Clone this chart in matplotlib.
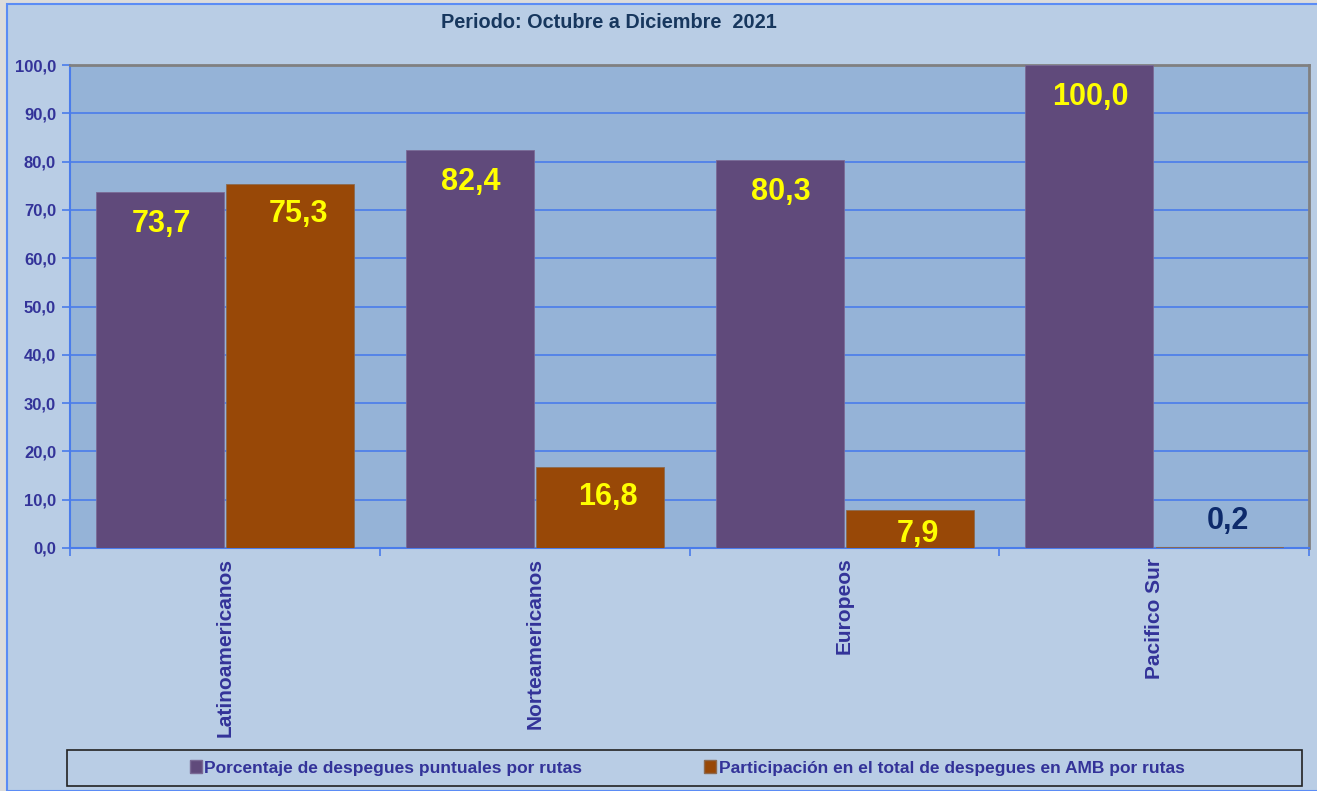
import numpy as np
import matplotlib.pyplot as plt
from matplotlib.patches import Rectangle, Patch

# datos
rutas = ['Latinoamericanos', 'Norteamericanos', 'Europeos', 'Pacifico Sur']
puntuales = [73.7, 82.4, 80.3, 100.0]
participacion = [75.3, 16.8, 7.9, 0.2]
yticks = [0, 10, 20, 30, 40, 50, 60, 70, 80, 90, 100]

titulo = 'Periodo: Octubre a Diciembre  2021'
serie1 = 'Porcentaje de despegues puntuales por rutas'
serie2 = 'Participación en el total de despegues en AMB por rutas'

plt.rcParams['font.family'] = ['Liberation Sans', 'DejaVu Sans']

c_morado = '#604A7B'
c_naranja = '#984807'
c_texto = '#333399'
c_grid = '#4A7CEB'

fig = plt.figure(figsize=(13.17, 7.91), dpi=100, facecolor='#DCDCDC')
# area del grafico
fig.patches.append(Rectangle((7 / 1317, 0), 1, (791 - 4) / 791, transform=fig.transFigure,
                             facecolor='#B9CDE5', edgecolor='#5B8CF5', linewidth=1.5, zorder=-10))

ax = fig.add_axes([70 / 1317, (791 - 548) / 791, 1239 / 1317, 483 / 791])
ax.set_facecolor('#95B3D7')

x = np.arange(len(rutas))
w = 0.413
ax.bar(x - 0.209, puntuales, w, color=c_morado, edgecolor='#7A6A95', linewidth=0.6, zorder=3)
ax.bar(x + 0.211, participacion, w, color=c_naranja, edgecolor='#8C6A50', linewidth=0.6, zorder=3)

for i, v in enumerate(puntuales):
    ax.annotate(f'{v:.1f}'.replace('.', ','), (x[i] - 0.209, v), xytext=(1, -32),
                textcoords='offset pixels', ha='center', va='center',
                fontsize=22, fontweight='bold', color='#FFFF00', zorder=5)
for i, v in enumerate(participacion):
    if v < 3:
        dy, col = 26, '#0D2A6B'
    elif v < 10:
        dy, col = -24, '#FFFF00'
    else:
        dy, col = -30, '#FFFF00'
    ax.annotate(f'{v:.1f}'.replace('.', ','), (x[i] + 0.211, v), xytext=(8, dy),
                textcoords='offset pixels', ha='center', va='center',
                fontsize=22, fontweight='bold', color=col, zorder=5)

ax.set_xlim(-0.5, len(rutas) - 0.5)
ax.set_ylim(0, 100)
ax.set_yticks(yticks)
ax.set_yticklabels([f'{t:.1f}'.replace('.', ',') for t in yticks],
                   fontsize=12, fontweight='bold', color=c_texto)
ax.grid(axis='y', color=c_grid, linewidth=1.2, zorder=1)
ax.set_axisbelow(True)

ax.set_xticks(x)
ax.set_xticklabels(rutas, rotation=90, fontsize=15, fontweight='bold', color=c_texto)
ax.tick_params(axis='x', which='major', length=0, pad=7)
ax.set_xticks(np.arange(len(rutas) + 1) - 0.5, minor=True)
ax.tick_params(axis='x', which='minor', length=6, color=c_grid, width=1.2)
ax.tick_params(axis='y', length=6, color=c_grid, width=1.2, pad=4)

ax.spines['left'].set_color(c_grid)
ax.spines['bottom'].set_color(c_grid)
ax.spines['left'].set_linewidth(1.5)
ax.spines['bottom'].set_linewidth(1.5)
ax.spines['top'].set_color('#808080')
ax.spines['right'].set_color('#808080')
ax.spines['top'].set_linewidth(2)
ax.spines['right'].set_linewidth(2)

fig.text(609 / 1317, 1 - 22 / 791, titulo, ha='center', va='center',
         fontsize=14.3, fontweight='bold', color='#17375E')

# cuadro de la leyenda
fig.patches.append(Rectangle((67 / 1317, (791 - 786) / 791), 1235 / 1317, 36 / 791,
                             transform=fig.transFigure, facecolor='none',
                             edgecolor='#222222', linewidth=1.2, zorder=2))
handles = [Patch(facecolor=c_morado, edgecolor='#7A6A95', label=serie1),
           Patch(facecolor=c_naranja, edgecolor='#8C6A50', label=serie2)]
fig.legend(handles=handles, loc='center', bbox_to_anchor=(687 / 1317, 1 - 768 / 791),
           ncol=2, frameon=False, handlelength=0.7, handleheight=0.7, handletextpad=0.15,
           columnspacing=7.0, prop={'size': 12.5, 'weight': 'bold'}, labelcolor=c_texto)

plt.savefig('out.png', dpi=100, facecolor=fig.get_facecolor())
